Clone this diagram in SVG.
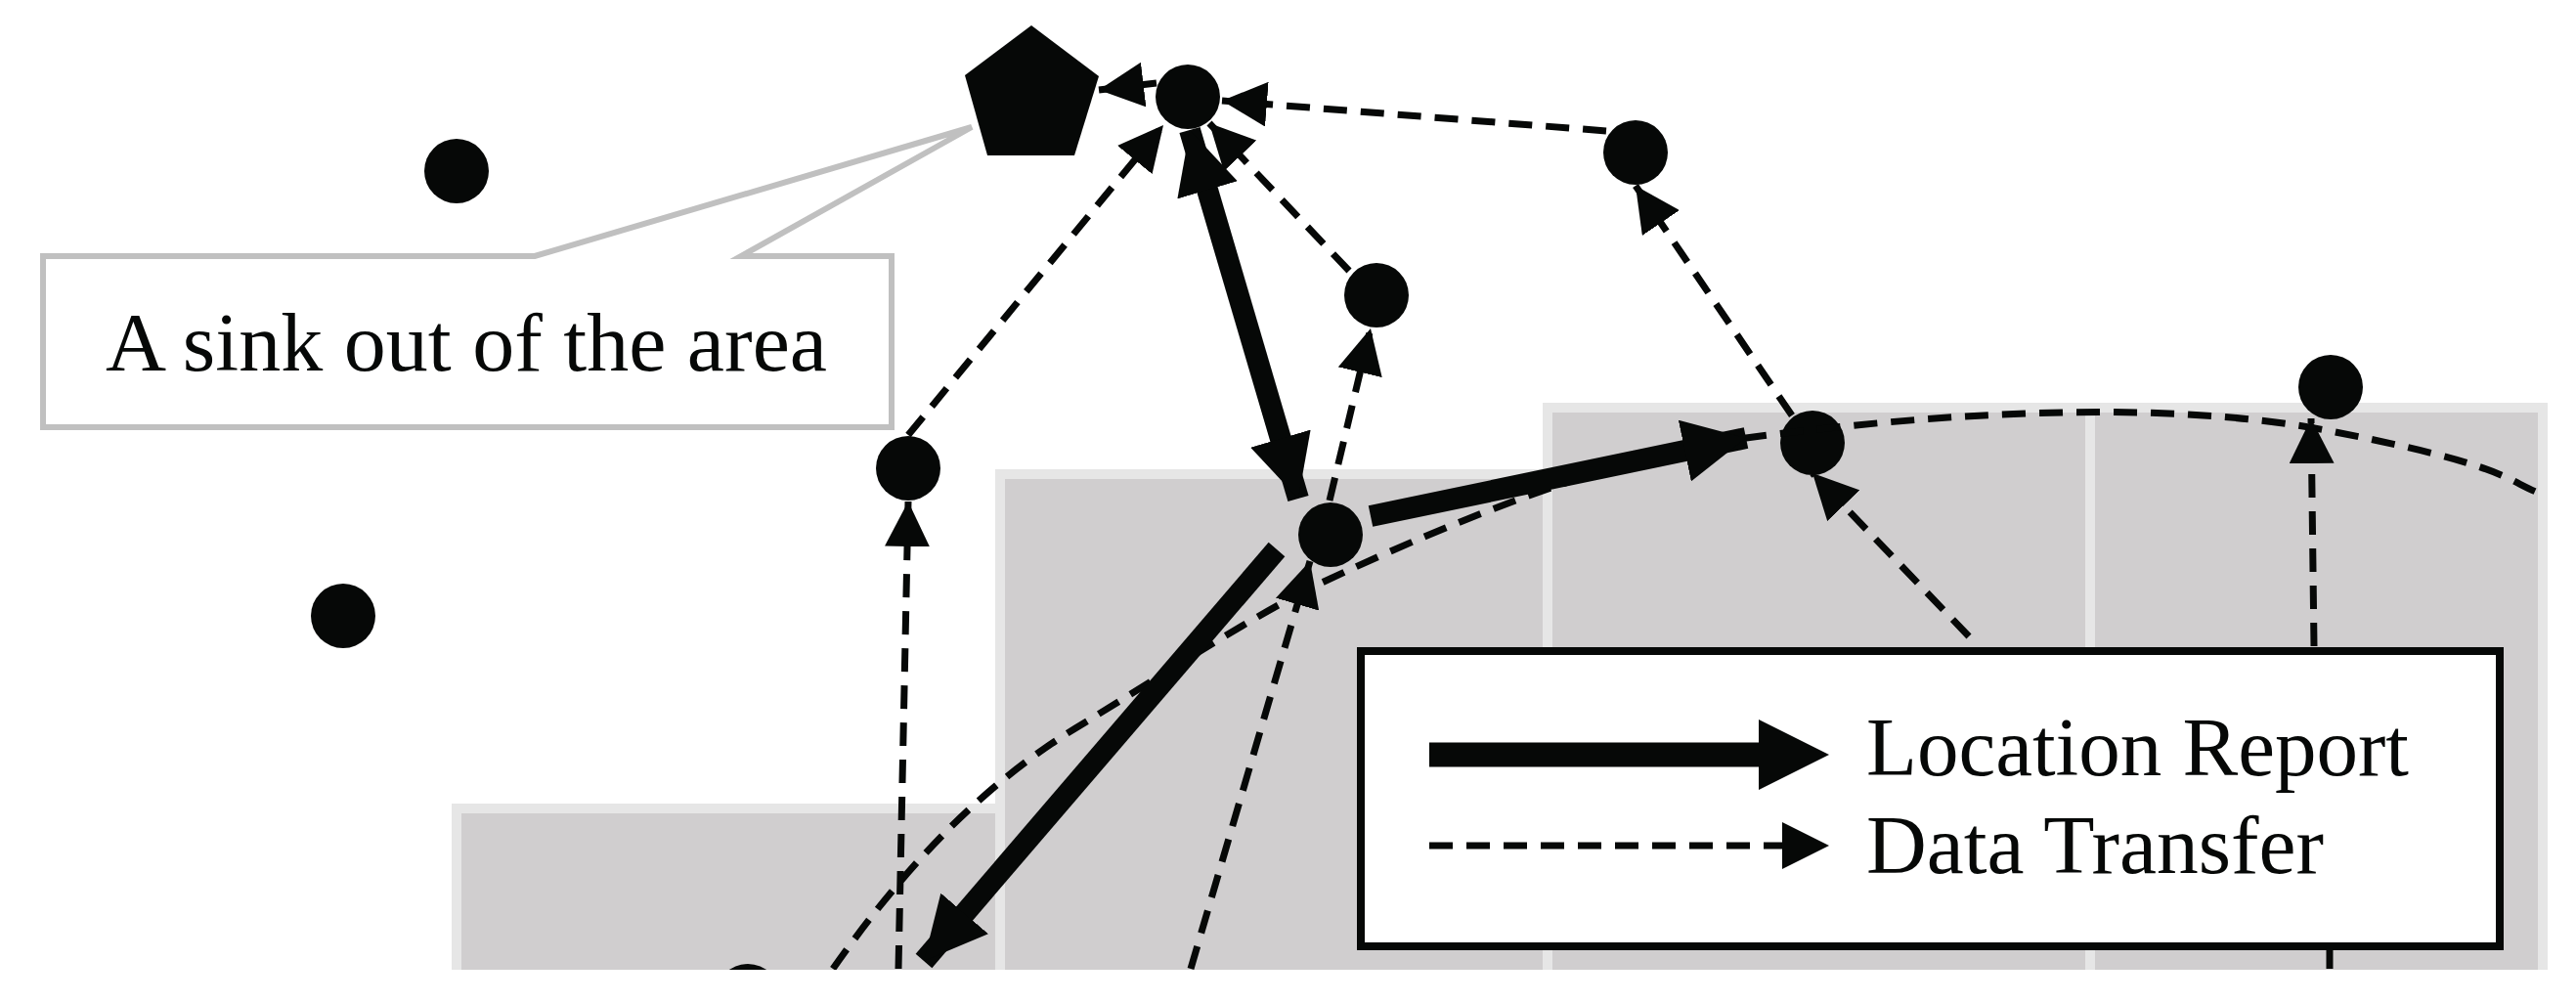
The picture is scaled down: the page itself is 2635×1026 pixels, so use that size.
<svg xmlns="http://www.w3.org/2000/svg" width="2635" height="1026" viewBox="0 0 2635 1026">
<style>
.area{fill:#d0cecf;stroke:#e6e6e6;stroke-width:10}
.dot{fill:#060807}
.thick{stroke:#060807;stroke-width:22;fill:none}
.dash{stroke:#060807;stroke-width:7;fill:none;stroke-dasharray:24 14}
.txt{font-family:"Liberation Serif",serif;font-size:84px;fill:#060807}
</style>
<defs>
<marker id="ta" viewBox="0 0 10 10" refX="10" refY="5" markerUnits="userSpaceOnUse" markerWidth="64" markerHeight="64" orient="auto-start-reverse"><path d="M0,0 L10,5 L0,10 Z" fill="#060807"/></marker>
<marker id="da" viewBox="0 0 10 10" refX="10" refY="5" markerUnits="userSpaceOnUse" markerWidth="46" markerHeight="46" orient="auto"><path d="M0,0 L10,5 L0,10 Z" fill="#060807"/></marker>
</defs>
<rect width="2635" height="1026" fill="#fff"/>
<g id="areas">
<rect class="area" x="467" y="827" width="556" height="190"/>
<rect class="area" x="1023" y="485" width="560" height="540"/>
<rect class="area" x="1583" y="417" width="555" height="610"/>
<rect class="area" x="2138" y="417" width="463" height="610"/>
</g>
<g id="nodes">
<g id="sink"><polygon points="1055,26 1124,78 1099,159 1010,159 987,77" fill="#060807"/></g>
<g id="n1"><circle class="dot" cx="467" cy="175" r="33"/></g>
<g id="n2"><circle class="dot" cx="351" cy="630" r="33"/></g>
<g id="nA"><circle class="dot" cx="1215" cy="99" r="33"/></g>
<g id="nB"><circle class="dot" cx="1673" cy="156" r="33"/></g>
<g id="nC"><circle class="dot" cx="1408" cy="302" r="33"/></g>
<g id="nD"><circle class="dot" cx="929" cy="479" r="33"/></g>
<g id="nE"><circle class="dot" cx="1361" cy="547" r="33"/></g>
<g id="nF"><circle class="dot" cx="1854" cy="453" r="33"/></g>
<g id="nG"><circle class="dot" cx="2384" cy="396" r="33"/></g>
<g id="nH"><circle class="dot" cx="765" cy="1019" r="33"/></g>
</g>
<g id="connectors">
<path class="dash" d="M852,991 C930,880 1010,800 1100,745 S1290,625 1350,597 S1620,470 1786,448 S2200,405 2384,441 S2560,490 2601,506"/>
<line class="dash" x1="1183" y1="85" x2="1124" y2="92" marker-end="url(#da)"/>
<line class="dash" x1="1643" y1="134" x2="1250" y2="103" marker-end="url(#da)"/>
<line class="dash" x1="929" y1="445" x2="1190" y2="128" marker-end="url(#da)"/>
<line class="dash" x1="1380" y1="277" x2="1237" y2="126" marker-end="url(#da)"/>
<line class="dash" x1="1360" y1="512" x2="1402" y2="336" marker-end="url(#da)"/>
<line class="dash" x1="919" y1="991" x2="929" y2="513" marker-end="url(#da)"/>
<line class="dash" x1="1218" y1="991" x2="1340" y2="574" marker-end="url(#da)"/>
<line class="dash" x1="2014" y1="651" x2="1854" y2="484" marker-end="url(#da)"/>
<line class="dash" x1="1833" y1="425" x2="1673" y2="190" marker-end="url(#da)"/>
<line class="dash" x1="2367" y1="661" x2="2364" y2="428" marker-end="url(#da)"/>
<line class="dash" x1="2383" y1="972" x2="2383" y2="991"/>
<line class="thick" x1="1217" y1="133" x2="1328" y2="510" marker-start="url(#ta)" marker-end="url(#ta)"/>
<line class="thick" x1="1402" y1="528" x2="1786" y2="448" marker-end="url(#ta)"/>
<line class="thick" x1="1306" y1="562" x2="945" y2="983" marker-end="url(#ta)"/>
</g>
<rect x="0" y="992" width="2635" height="34" fill="#fff"/>
<g id="callout">
<path d="M44,262 L547,262 L994,130 L758,262 L912,262 L912,437 L44,437 Z" fill="#fff" stroke="#c0c0c0" stroke-width="6"/>
<text class="txt" x="108" y="379" textLength="738" lengthAdjust="spacingAndGlyphs">A sink out of the area</text>
</g>
<g id="legend">
<rect x="1392" y="666" width="1165" height="302" fill="#fff" stroke="#060807" stroke-width="8"/>
<line x1="1462" y1="772" x2="1805" y2="772" stroke="#060807" stroke-width="25"/>
<path d="M1799,736 L1871,772 L1799,808 Z" fill="#060807"/>
<line x1="1462" y1="865" x2="1825" y2="865" class="dash"/>
<path d="M1823,841 L1871,865 L1823,889 Z" fill="#060807"/>
<text class="txt" x="1909" y="793" textLength="555" lengthAdjust="spacingAndGlyphs">Location Report</text>
<text class="txt" x="1909" y="893" textLength="468" lengthAdjust="spacingAndGlyphs">Data Transfer</text>
</g>
</svg>
